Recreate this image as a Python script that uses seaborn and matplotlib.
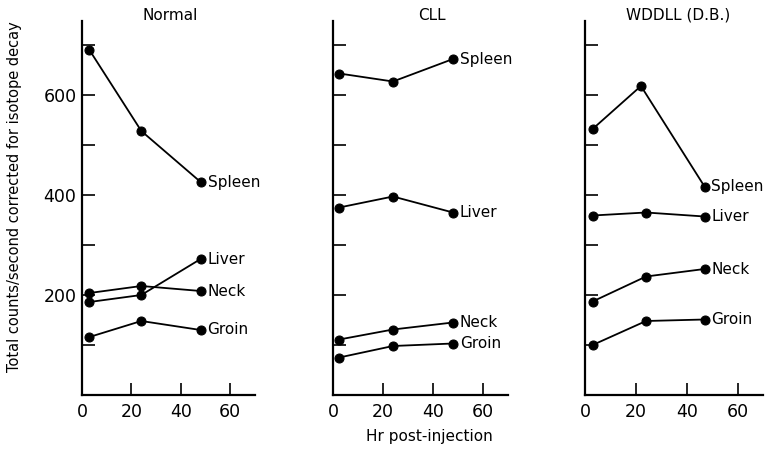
import pandas as pd
import matplotlib
matplotlib.use("Agg")
import matplotlib.pyplot as plt
import seaborn as sns

# ---------------------------
# Data
# ---------------------------
panels = ["Normal", "CLL", "WDDLL (D.B.)"]
sites = ["Spleen", "Liver", "Neck", "Groin"]

normal_hours = [3, 24, 48]
normal_spleen = [690, 528, 426]
normal_liver = [186, 200, 272]
normal_neck = [204, 218, 208]
normal_groin = [116, 148, 130]

cll_hours = [2.5, 24, 48]
cll_spleen = [643, 627, 672]
cll_liver = [375, 397, 365]
cll_neck = [111, 131, 145]
cll_groin = [75, 98, 103]

wddll_hours = [3, 24, 47]
wddll_spleen_hours = [3, 22, 47]
wddll_spleen = [532, 618, 417]
wddll_liver = [359, 365, 357]
wddll_neck = [187, 237, 252]
wddll_groin = [100, 148, 151]

x_ticks = [0, 20, 40, 60]
y_ticks = [0, 100, 200, 300, 400, 500, 600, 700]
y_labelled = [200, 400, 600]

# ---------------------------
# Long-form table
# ---------------------------
rows = []
panel_series = {
    "Normal": [(normal_hours, normal_spleen), (normal_hours, normal_liver),
               (normal_hours, normal_neck), (normal_hours, normal_groin)],
    "CLL": [(cll_hours, cll_spleen), (cll_hours, cll_liver),
            (cll_hours, cll_neck), (cll_hours, cll_groin)],
    "WDDLL (D.B.)": [(wddll_spleen_hours, wddll_spleen), (wddll_hours, wddll_liver),
                     (wddll_hours, wddll_neck), (wddll_hours, wddll_groin)],
}
for panel in panels:
    for site, (hrs, vals) in zip(sites, panel_series[panel]):
        for h, v in zip(hrs, vals):
            rows.append({"panel": panel, "site": site, "hours": h, "counts": v})
df = pd.DataFrame(rows)

# ---------------------------
# Plot
# ---------------------------
sns.set_style("ticks", rc={"text.color": "black", "xtick.color": "black",
                           "ytick.color": "black", "axes.edgecolor": "black"})
plt.rcParams["font.family"] = ["DejaVu Sans"]

fig = plt.figure(figsize=(7.67, 4.51), dpi=100)
lefts = [82 / 767, 333 / 767, 585 / 767]
widths = [173 / 767, 175 / 767, 178 / 767]
bottom = 1 - 395 / 451
height = (395 - 21) / 451

title_x = [170 / 767, 432 / 767, 678 / 767]

for i, panel in enumerate(panels):
    ax = fig.add_axes([lefts[i], bottom, widths[i], height])
    sub = df[df["panel"] == panel]
    sns.lineplot(data=sub, x="hours", y="counts", units="site", estimator=None,
                 sort=False, color="black", marker="o", markersize=6.5,
                 markeredgecolor="black", linewidth=1.3, ax=ax)

    # site labels next to the last point
    for site in sites:
        last = sub[sub["site"] == site].iloc[-1]
        ax.annotate(site, (last["hours"], last["counts"]), xytext=(5, 0),
                    textcoords="offset points", va="center", ha="left",
                    fontsize=11, color="black")

    ax.set_xlim(0, 70)
    ax.set_ylim(0, 748)
    ax.set_xticks(x_ticks)
    ax.set_xticklabels([str(t) for t in x_ticks], fontsize=12.5)
    ax.set_yticks(y_ticks)
    if i == 0:
        ax.set_yticklabels([str(t) if t in y_labelled else "" for t in y_ticks],
                           fontsize=12.5)
    else:
        ax.set_yticklabels([""] * len(y_ticks))
    ax.set_xlabel("")
    ax.set_ylabel("")

    sns.despine(ax=ax)
    for side in ["left", "bottom"]:
        ax.spines[side].set_linewidth(1.6)
    ax.tick_params(direction="in", length=9, width=1.2, bottom=True, left=True)
    ax.tick_params(axis="x", pad=6)
    ax.tick_params(axis="y", pad=4)

    fig.text(title_x[i], 1 - 15 / 451, panel, ha="center", va="center", fontsize=11)

fig.text(15 / 767, 1 - 197 / 451, "Total counts/second corrected for isotope decay",
         rotation=90, ha="center", va="center", fontsize=10.5)
fig.text(429 / 767, 1 - 437 / 451, "Hr post-injection", ha="center", va="center",
         fontsize=11)

plt.savefig("out.png", dpi=100)
plt.close()
